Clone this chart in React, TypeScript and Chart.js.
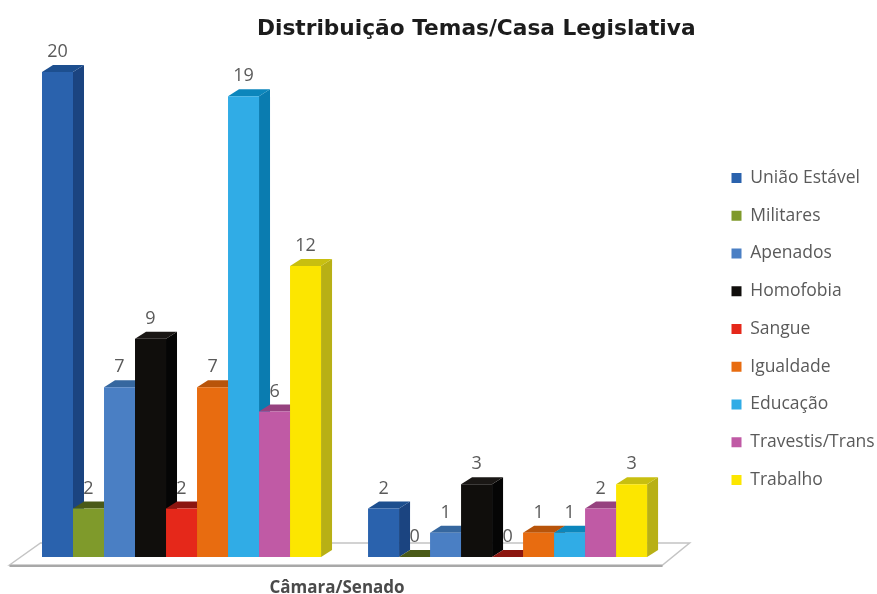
import React, { useEffect, useRef } from "react";
import { Chart, registerables } from "chart.js";

Chart.register(...registerables);

const categories = ["Câmara", "Senado"];
const titleText = "Distribuição Temas/Casa Legislativa";
const axisTitle = "Câmara/Senado";

const uniaoEstavel = [20, 2];
const militares = [2, 0];
const apenados = [7, 1];
const homofobia = [9, 3];
const sangue = [2, 0];
const igualdade = [7, 1];
const educacao = [19, 1];
const travestis = [6, 2];
const trabalho = [12, 3];

const seriesNames = ["União Estável", "Militares", "Apenados", "Homofobia", "Sangue", "Igualdade", "Educação", "Travestis/Trans", "Trabalho"];
const seriesValues = [uniaoEstavel, militares, apenados, homofobia, sangue, igualdade, educacao, travestis, trabalho];
const frontColors = ["#2a62ad", "#7f9a2b", "#4a7fc4", "#100e0c", "#e5281a", "#e86c10", "#30ace6", "#c05aa5", "#fce600"];
const sideColors = ["#1b4480", "#5a6e1e", "#2f5c9b", "#050505", "#9c1a10", "#a84c08", "#0a7cb0", "#8a3c76", "#b8b015"];
const topColors = ["#1d4f8f", "#4a5a18", "#36679f", "#1a1715", "#8c1610", "#b8540a", "#0c86bc", "#96427f", "#c8bf10"];

const DX = 11;
const DY = 7;

function drawDepth(ctx: any, meta: any, i: number) {
  ctx.save();
  meta.data.forEach((bar: any) => {
    const half = bar.width / 2;
    const l = bar.x - half;
    const r = bar.x + half;
    const t = bar.y;
    const b = bar.base;
    ctx.fillStyle = sideColors[i];
    ctx.beginPath();
    ctx.moveTo(r, t);
    ctx.lineTo(r + DX, t - DY);
    ctx.lineTo(r + DX, b - DY);
    ctx.lineTo(r, b);
    ctx.closePath();
    ctx.fill();
    ctx.fillStyle = topColors[i];
    ctx.beginPath();
    ctx.moveTo(l, t);
    ctx.lineTo(l + DX, t - DY);
    ctx.lineTo(r + DX, t - DY);
    ctx.lineTo(r, t);
    ctx.closePath();
    ctx.fill();
  });
  ctx.restore();
}

const depthPlugin = {
  id: "depth",
  afterLayout(chart: any) {
    chart.titleBlock.left += 28.5;
    chart.titleBlock.right += 28.5;
    chart.scales.x.right -= 15;
    chart.scales.x.bottom += 4;
    chart.legend.left = 711.25;
    chart.legend.top += 32;
    chart.legend.bottom += 32;
  },
  beforeDatasetsDraw(chart: any) {
    const { ctx, chartArea: a } = chart;
    const floorBase = a.bottom;
    ctx.save();
    ctx.beginPath();
    ctx.moveTo(a.left - 9, floorBase + 8);
    ctx.lineTo(a.left + 22, floorBase - 14);
    ctx.lineTo(a.right + 19, floorBase - 14);
    ctx.lineTo(a.right - 8, floorBase + 8);
    ctx.closePath();
    ctx.fillStyle = "#ffffff";
    ctx.fill();
    ctx.strokeStyle = "#c4c4c4";
    ctx.lineWidth = 1.5;
    ctx.stroke();
    ctx.beginPath();
    ctx.moveTo(a.left - 9, floorBase + 9);
    ctx.lineTo(a.right - 8, floorBase + 9);
    ctx.strokeStyle = "#a8a8a8";
    ctx.lineWidth = 2;
    ctx.stroke();
    ctx.restore();
  },
  beforeDatasetDraw() {
    // The library paints the last series first; the bars are painted left to right below.
    return false;
  },
  afterDatasetsDraw(chart: any) {
    const { ctx } = chart;
    chart.data.datasets.forEach((_: any, i: number) => {
      const meta = chart.getDatasetMeta(i);
      drawDepth(ctx, meta, i);
      meta.controller.draw();
    });
    ctx.save();
    ctx.font = "18px 'Open Sans'";
    ctx.fillStyle = "#5a5a5a";
    ctx.textAlign = "center";
    ctx.textBaseline = "middle";
    chart.data.datasets.forEach((ds: any, i: number) => {
      chart.getDatasetMeta(i).data.forEach((bar: any, j: number) => {
        ctx.fillText(String(ds.data[j]), bar.x, bar.y - 20);
      });
    });
    ctx.restore();
  },
};

export default function App() {
  const ref = useRef<HTMLCanvasElement>(null);
  useEffect(() => {
    document.body.style.margin = "0";
    const chart = new Chart(ref.current as HTMLCanvasElement, {
      type: "bar",
      data: {
        labels: categories,
        datasets: seriesNames.map((name, i) => ({
          label: name,
          data: seriesValues[i],
          backgroundColor: frontColors[i],
          barPercentage: 1,
          categoryPercentage: 279 / 326,
        })),
      },
      options: {
        responsive: false,
        animation: false,
        layout: { padding: { left: 18.5 } },
        plugins: {
          title: {
            display: true,
            text: titleText,
            color: "#1c1c1c",
            font: { family: "DejaVu Sans", size: 21.7, weight: "bold" },
            padding: { top: 16, bottom: 30 },
          },
          legend: {
            position: "right",
            labels: {
              boxWidth: 10,
              boxHeight: 10,
              padding: 20.25,
              color: "#5a5a5a",
              font: { family: "Open Sans", size: 17.5 },
            },
          },
          tooltip: { enabled: false },
        },
        scales: {
          x: {
            grid: { display: false },
            border: { display: false },
            ticks: { display: false },
            title: {
              display: true,
              text: axisTitle,
              color: "#4a4a4a",
              font: { family: "Open Sans", size: 17, weight: "bold" },
              padding: { top: 0, bottom: 0 },
            },
            afterFit: (s: any) => {
              s.height = 37;
            },
          },
          y: {
            position: "right",
            min: 0,
            max: 20,
            grid: { display: false },
            border: { display: false },
            ticks: { display: false },
            afterFit: (s: any) => {
              s.width = 33;
            },
          },
        },
      },
      plugins: [depthPlugin],
    } as any);
    return () => chart.destroy();
  }, []);
  return <canvas ref={ref} width={877} height={594} style={{ display: "block", filter: "blur(0.5px)" }} />;
}
